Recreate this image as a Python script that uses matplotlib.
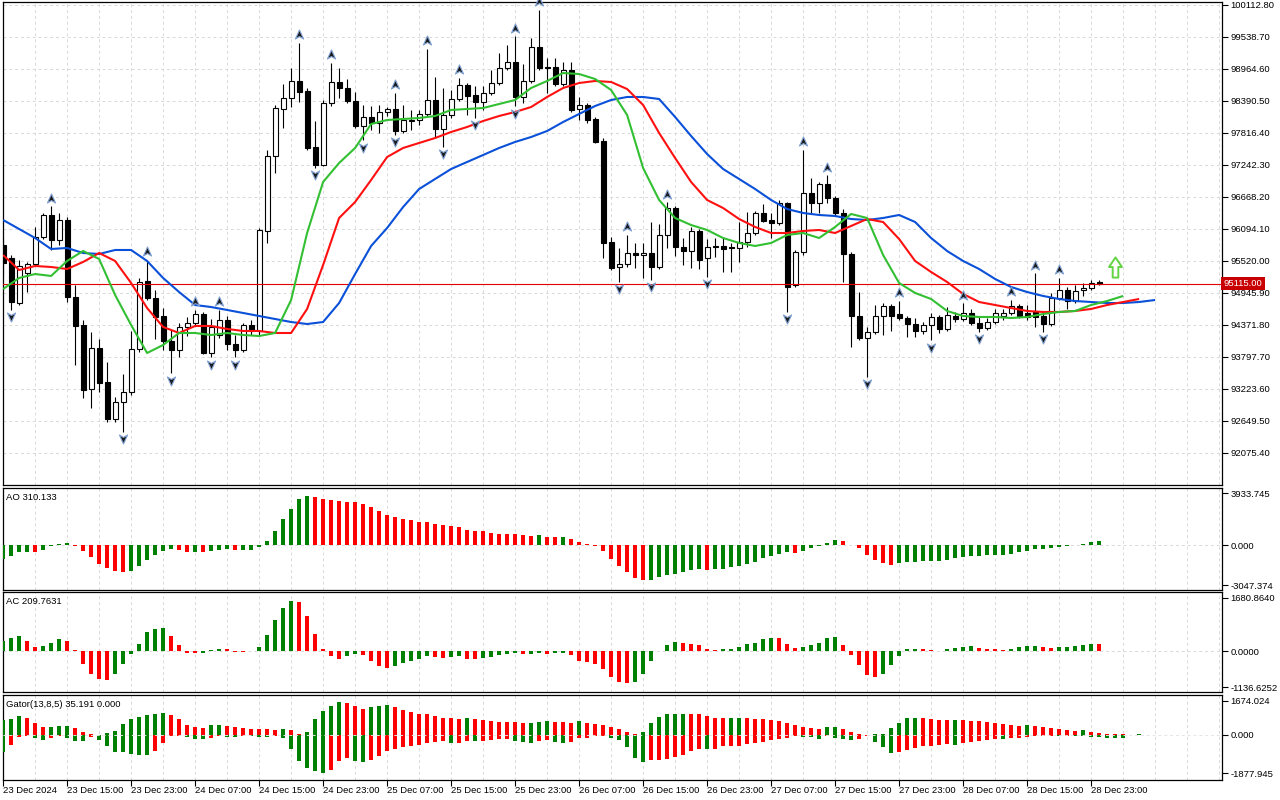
import matplotlib
matplotlib.use("Agg")
import matplotlib.pyplot as plt
import numpy as np
import pandas as pd
from matplotlib.path import Path
from matplotlib.transforms import offset_copy, blended_transform_factory

plt.rcParams["font.family"] = ["Liberation Sans", "DejaVu Sans"]
plt.rcParams["font.size"] = 6.8

# ---- hourly BTC candles, first bar 23 Dec 2024 07:00 ----
FIRST_BAR = "2024-12-23 07:00"
OPEN = [95807, 95574, 94766, 95304, 95466, 95950, 96345, 95896, 96255, 94874,
        94372, 93223, 93959, 93349, 92685, 92990, 93169, 93941, 95161, 94856,
        94533, 94084, 93923, 94336, 94407, 94569, 93869, 94192, 94461, 94031,
        93923, 94372, 94264, 96058, 97403, 98247, 98444, 98749, 98569, 97565,
        97242, 98354, 98731, 98623, 98390, 97942, 98103, 97995, 98193, 98247,
        97852, 98031, 98049, 98157, 98408, 97888, 98139, 98426, 98677, 98498,
        98372, 98534, 98713, 98982, 99090, 98462, 98749, 99359, 99000, 99000,
        98695, 98946, 98247, 98318, 98067, 97672, 95861, 95412, 95466, 95663,
        95627, 95663, 95412, 95986, 96470, 95771, 95699, 96058, 95574, 95789,
        95789, 95771, 95753, 95861, 96022, 96381, 96255, 96201, 96560, 95089,
        95681, 96740, 96560, 96901, 96650, 96381, 95645, 94533, 94138, 94246,
        94533, 94712, 94569, 94497, 94389, 94264, 94372, 94515, 94300, 94533,
        94479, 94587, 94407, 94318, 94425, 94533, 94587, 94712, 94587, 94605,
        94533, 94389, 94856, 94999, 94802, 94999, 95035, 95135]
HIGH = [95932, 95627, 95538, 95502, 96130, 96381, 96506, 96381, 96309, 95089,
        94461, 94246, 94120, 93708, 93080, 93492, 94264, 95215, 95538, 94999,
        94676, 94282, 94407, 94515, 94641, 94605, 94479, 94641, 94533, 94192,
        94407, 94461, 96112, 97511, 98318, 98695, 98982, 99431, 98623, 98031,
        98408, 99072, 98982, 98785, 98551, 98318, 98300, 98318, 98282, 98534,
        98318, 98229, 98229, 99323, 98821, 98623, 98587, 98803, 98713, 98659,
        98659, 98946, 99251, 99395, 99556, 99054, 99520, 100023, 99162, 99162,
        99090, 99090, 98462, 98354, 98103, 97726, 95950, 95753, 95986, 95843,
        95843, 96219, 96183, 96578, 96506, 95932, 96130, 96094, 95914, 95932,
        95932, 95843, 96219, 96399, 96417, 96542, 96381, 96614, 96578, 95717,
        97511, 97009, 96937, 97062, 96686, 96452, 95681, 94963, 94336, 94730,
        94766, 94748, 94802, 94533, 94497, 94425, 94587, 94551, 94694, 94605,
        94766, 94659, 94515, 94497, 94659, 94659, 94820, 94748, 94730, 95304,
        94605, 94946, 95215, 95053, 95089, 95125, 95179, 95179]
LOW = [95269, 94641, 94730, 94963, 95430, 95914, 95717, 95807, 94784, 93654,
       93062, 92882, 93169, 92631, 92631, 92452, 93116, 93887, 94820, 94120,
       93923, 93510, 93797, 94174, 94372, 93851, 93797, 94138, 93923, 93797,
       93887, 94192, 94174, 95843, 97098, 97906, 98282, 98372, 97511, 97190,
       97224, 98300, 98444, 98354, 97906, 97690, 97870, 97816, 98121, 97780,
       97816, 97870, 97960, 98121, 97726, 97565, 98085, 98390, 98139, 98085,
       98229, 98498, 98677, 98946, 98300, 98354, 98713, 98946, 98534, 98659,
       98659, 98193, 98049, 97995, 97637, 95574, 95358, 95143, 95412, 95394,
       95215, 95179, 95376, 95753, 95609, 95448, 95394, 95376, 95233, 95591,
       95322, 95322, 95502, 95771, 95986, 96219, 95932, 96165, 94605, 95053,
       95627, 96381, 96381, 96560, 96345, 95143, 93977, 94102, 93439, 94210,
       94192, 94264, 94461, 94156, 94156, 94210, 94102, 94228, 94264, 94425,
       94443, 94372, 94246, 94282, 94389, 94461, 94551, 94497, 94461, 94336,
       94246, 94354, 94820, 94659, 94766, 94892, 94999, 95089]
CLOSE = [95484, 94784, 95430, 95466, 95950, 96345, 95896, 96255, 94874, 94354,
         93205, 93959, 93331, 92685, 92990, 93169, 93941, 95143, 94856, 94515,
         94084, 93923, 94336, 94407, 94569, 93869, 94336, 94461, 94031, 93923,
         94372, 94264, 96076, 97403, 98264, 98444, 98749, 98551, 97547, 97242,
         98354, 98731, 98623, 98390, 97942, 98103, 97995, 98193, 98247, 97852,
         98049, 98049, 98157, 98408, 97888, 98139, 98426, 98677, 98480, 98372,
         98534, 98713, 98982, 99090, 98462, 98749, 99359, 98982, 98982, 98695,
         98946, 98229, 98318, 98049, 97655, 95843, 95394, 95466, 95663, 95627,
         95663, 95412, 95986, 96470, 95771, 95699, 96058, 95538, 95771, 95771,
         95735, 95753, 95861, 96022, 96381, 96237, 96201, 96560, 95053, 95681,
         96740, 96560, 96901, 96650, 96381, 95645, 94533, 94138, 94246, 94533,
         94712, 94533, 94497, 94389, 94264, 94372, 94515, 94300, 94551, 94479,
         94587, 94407, 94318, 94425, 94587, 94587, 94712, 94533, 94515, 94515,
         94389, 94856, 94999, 94802, 94981, 95035, 95125, 95115]
LAST_PRICE = 95115.00

# Alligator lines, one value every second bar (already shifted 8 / 5 / 3 bars)
LINE_STEP = 2
JAW = [96255, 96094, 95932, 95735, 95753, 95663, 95645, 95717, 95717, 95520,
       95215, 94963, 94730, 94694, 94641, 94587, 94533, 94479, 94425, 94389,
       94425, 94766, 95286, 95789, 96112, 96488, 96811, 96991, 97170, 97296,
       97421, 97547, 97655, 97744, 97852, 98013, 98157, 98300, 98408, 98462,
       98462, 98426, 98103, 97762, 97439, 97170, 96991, 96811, 96614, 96452,
       96381, 96345, 96327, 96273, 96255, 96291, 96345, 96219, 95932, 95699,
       95520, 95376, 95197, 95053, 94963, 94892, 94838, 94802, 94784, 94766,
       94766, 94784, 94820]
TEETH = [95627, 95358, 95430, 95412, 95376, 95502, 95663, 95520, 95125, 94676,
         94336, 94228, 94354, 94354, 94300, 94264, 94264, 94228, 94228, 94659,
         95448, 96291, 96578, 96973, 97385, 97547, 97637, 97726, 97834, 97924,
         98031, 98121, 98193, 98282, 98462, 98623, 98713, 98749, 98731, 98605,
         98318, 97816, 97367, 96937, 96614, 96470, 96273, 96130, 96022, 96022,
         96058, 96076, 96022, 96148, 96273, 96219, 95914, 95520, 95322, 95143,
         94928, 94784, 94730, 94676, 94623, 94605, 94605, 94623, 94659, 94730,
         94784, 94838]
LIPS = [95017, 95215, 95286, 95251, 95520, 95699, 95556, 94910, 94372, 93869,
        94013, 94228, 94228, 94192, 94228, 94192, 94174, 94228, 94820, 96022,
        96937, 97278, 97547, 97977, 98049, 98067, 98085, 98121, 98229, 98247,
        98264, 98336, 98408, 98623, 98749, 98892, 98874, 98785, 98587, 98139,
        97188, 96614, 96291, 96165, 96076, 95932, 95843, 95789, 95843, 95986,
        96022, 95932, 96130, 96363, 96291, 95627, 95125, 94946, 94838, 94623,
        94533, 94515, 94515, 94497, 94515, 94569, 94605, 94623, 94730, 94802,
        94892]

FRACTAL_UP = [6, 18, 24, 27, 37, 41, 49, 53, 57, 64, 67, 78, 83, 100, 103,
              112, 120, 126, 129, 132]
FRACTAL_DOWN = [1, 15, 21, 26, 29, 39, 45, 49, 55, 59, 64, 77, 81, 88, 98,
                108, 116, 122, 130]
BUY_SIGNAL_BAR = 139
BUY_SIGNAL_PRICE = 95412

AO = [-1037, -860, -557, -531, -557, -405, -101, 76, 152, -51,
      -481, -936, -1417, -1771, -1999, -2075, -1948, -1619, -1164, -784,
      -481, -304, -405, -557, -531, -557, -481, -405, -329, -405,
      -380, -354, -177, 329, 1088, 1948, 2758, 3517, 3744, 3669,
      3517, 3416, 3314, 3302, 3289, 3137, 2910, 2606, 2302, 2151,
      1999, 1923, 1771, 1746, 1619, 1543, 1467, 1392, 1164, 1088,
      1037, 911, 835, 822, 810, 784, 708, 734, 633, 620,
      633, 481, 253, 76, -101, -481, -1088, -1619, -2075, -2530,
      -2682, -2631, -2454, -2302, -2176, -2024, -1923, -1796, -1872, -1847,
      -1796, -1695, -1619, -1417, -1265, -1012, -810, -658, -557, -582,
      -481, -253, -76, 152, 405, 329, -25, -228, -784, -1164,
      -1392, -1493, -1392, -1316, -1265, -1240, -1214, -1189, -1113, -1012,
      -936, -860, -810, -784, -759, -734, -658, -557, -481, -329,
      -278, -228, -177, -101, -25, 76, 228, 310.133]
AC = [311, 415, 488, 332, 145, 176, 270, 394, 332, 21,
      -415, -727, -882, -913, -727, -415, -83, 239, 592, 706,
      716, 488, 208, -52, -62, -52, 21, 83, 73, -31,
      -36, -10, 145, 519, 986, 1360, 1578, 1547, 1111, 550,
      52, -156, -239, -156, -104, -125, -311, -467, -529, -467,
      -374, -311, -260, -156, -187, -218, -187, -156, -249, -254,
      -208, -187, -125, -83, -52, -93, -83, -62, -83, -73,
      -52, -125, -311, -343, -415, -561, -810, -965, -996, -965,
      -727, -311, -10, 208, 301, 270, 239, 197, 73, 31,
      52, 62, 145, 239, 270, 374, 405, 400, 239, 114,
      125, 208, 270, 415, 457, 208, -125, -436, -758, -810,
      -716, -436, -166, 52, 83, 52, 21, 16, 52, 114,
      145, 151, 114, 83, 52, 47, 83, 145, 151, 176,
      145, 114, 119, 145, 151, 208, 239, 209.7631]
GATOR_UP = [714, 764, 913, 813, 564, 365, 374, 415, 423, 315,
            166, 66, 17, 100, 216, 515, 764, 880, 963, 1029,
            1062, 963, 764, 465, 365, 315, 465, 473, 415, 365,
            315, 307, 299, 266, 257, 266, 249, 66, 166, 764,
            1162, 1411, 1610, 1560, 1411, 1262, 1361, 1411, 1461, 1361,
            1212, 1112, 1013, 1004, 913, 813, 805, 764, 813, 764,
            714, 664, 656, 647, 614, 564, 573, 614, 664, 656,
            614, 606, 664, 564, 515, 465, 365, 266, 166, 66,
            166, 564, 863, 1013, 1021, 1029, 1013, 1004, 913, 813,
            805, 813, 822, 813, 764, 755, 714, 664, 564, 465,
            365, 315, 266, 365, 374, 266, 166, 33, 8, 50,
            58, 315, 564, 813, 822, 813, 764, 714, 706, 714,
            706, 697, 664, 614, 564, 515, 465, 457, 465, 415,
            365, 315, 266, 257, 216, 224, 166, 116, 66, 50,
            33, 17, 25]
GATOR_DOWN = [-813, -498, -116, -66, -166, -232, -166, -66, -166, -282,
              -291, -116, -232, -564, -813, -830, -946, -963, -971, -780,
              -415, -50, -33, -116, -216, -224, -149, -66, -83, -116,
              -66, -75, -116, -125, -66, -166, -697, -1278, -1610, -1776,
              -1859, -1693, -1278, -1129, -1278, -1328, -1228, -1029, -780, -681,
              -614, -564, -515, -415, -365, -315, -415, -407, -282, -291,
              -282, -232, -224, -216, -282, -365, -415, -282, -232, -365,
              -415, -332, -166, -133, -66, -33, -166, -232, -614, -1112,
              -1328, -1228, -1220, -1162, -1062, -963, -780, -697, -706, -681,
              -564, -556, -531, -448, -398, -332, -232, -199, -133, -66,
              -83, -116, -216, -66, -166, -216, -266, -216, -66, -365,
              -614, -863, -813, -714, -664, -564, -556, -515, -465, -473,
              -415, -365, -315, -266, -216, -224, -166, -149, -116, -66,
              -50, -33, -66, -33, -66, -75, -116, -125, -133, -166,
              -174]

AO_LABEL = "AO 310.133"
AC_LABEL = "AC 209.7631"
GATOR_LABEL = "Gator(13,8,5) 35.191 0.000"
AO_RANGE = (3933.745, -3047.374)
AC_RANGE = (1680.8640, -1136.6252)
GATOR_RANGE = (1674.024, -1877.945)

# ---- style ----
GREEN = "#008000"
RED = "#FF0000"
JAW_COLOR = "#0A50D8"
TEETH_COLOR = "#FF1010"
LIPS_COLOR = "#32C032"
GRID = dict(color="#D9D9D9", linestyle=(0, (3, 3)), linewidth=0.7)
W, H = 1280, 800
X_LEFT, X_RIGHT = 2.7, 1222
XLIM = (-0.05, 152.36)


def trend_colors(values):
    values = np.asarray(values, dtype=float)
    prev = np.r_[-np.inf, values[:-1]]
    return np.where(values > prev, GREEN, RED)


fig = plt.figure(figsize=(W / 100, H / 100), dpi=100)
fig.patch.set_facecolor("white")


def panel(top, bottom):
    a = fig.add_axes([X_LEFT / W, 1 - bottom / H, (X_RIGHT - X_LEFT) / W, (bottom - top) / H])
    a.set_xlim(*XLIM)
    for s in a.spines.values():
        s.set_linewidth(0.9)
        s.set_color("black")
    a.yaxis.tick_right()
    a.tick_params(axis="y", direction="out", length=4, width=0.8, pad=2, labelsize=6.8)
    a.set_xticks([])
    for xg in range(4, int(XLIM[1]) + 1, 4):
        a.axvline(xg, zorder=0, **GRID)
    return a


ax = panel(2, 485)
ax_ao = panel(488, 590)
ax_ac = panel(592, 692)
ax_gt = panel(695, 780)

# ---- price chart ----
o, h, l, c = (np.asarray(v, dtype=float) for v in (OPEN, HIGH, LOW, CLOSE))
n = len(c)
bars = np.arange(n)
bull = c >= o

ax.set_ylim(91501, 100166)
price_ticks = 100112.80 - 574.10 * np.arange(15)
ax.set_yticks(price_ticks)
ax.set_yticklabels([f"{v:.2f}" for v in price_ticks])
for v in price_ticks:
    ax.axhline(v, zorder=0, **GRID)

ax.vlines(bars, l, h, color="black", linewidth=0.8, zorder=3)
ax.bar(bars, np.maximum(np.abs(c - o), 6), bottom=np.minimum(o, c), width=0.6,
       color=np.where(bull, "white", "black"), edgecolor="black", linewidth=0.8, zorder=4)

ax.axhline(LAST_PRICE, color="#E00000", linewidth=0.8, zorder=4.5)

for values, color in ((JAW, JAW_COLOR), (TEETH, TEETH_COLOR), (LIPS, LIPS_COLOR)):
    ax.plot(np.arange(len(values)) * LINE_STEP, values, color=color, linewidth=1.5,
            zorder=5, solid_capstyle="butt")

code = [Path.MOVETO, Path.LINETO, Path.LINETO, Path.LINETO, Path.CLOSEPOLY]
up_arrow = Path([(0, 1), (0.9, -1), (0, -0.45), (-0.9, -1), (0, 1)], code)
down_arrow = Path([(0, -1), (0.9, 1), (0, 0.45), (-0.9, 1), (0, -1)], code)
marker_kw = dict(linestyle="none", markersize=6.5, markerfacecolor="#1A1A1A",
                 markeredgecolor="#7FA0D0", markeredgewidth=0.8, zorder=6, clip_on=False)
ax.plot(FRACTAL_UP, h[FRACTAL_UP], marker=up_arrow,
        transform=offset_copy(ax.transData, fig=fig, y=8.5, units="dots"), **marker_kw)
ax.plot(FRACTAL_DOWN, l[FRACTAL_DOWN], marker=down_arrow,
        transform=offset_copy(ax.transData, fig=fig, y=-7.5, units="dots"), **marker_kw)

buy_arrow = Path([(-0.28, -1), (0.28, -1), (0.28, 0.05), (0.64, 0.05), (0, 1),
                  (-0.64, 0.05), (-0.28, 0.05), (-0.28, -1)],
                 [Path.MOVETO] + [Path.LINETO] * 6 + [Path.CLOSEPOLY])
ax.plot([BUY_SIGNAL_BAR], [BUY_SIGNAL_PRICE], marker=buy_arrow, markersize=14.5,
        markerfacecolor="white", markeredgecolor="#62D444", markeredgewidth=1.4,
        linestyle="none", zorder=6)

ax.text(1.0015, LAST_PRICE, f"{LAST_PRICE:.2f}", transform=blended_transform_factory(ax.transAxes, ax.transData),
        ha="left", va="center", color="white", fontsize=6.8, zorder=10, clip_on=False,
        bbox=dict(boxstyle="square,pad=0.25", facecolor="#C80000", edgecolor="none"))

# ---- oscillators ----
def setup_osc(a, rng, lim, fmt, label, label_y):
    a.set_ylim(*lim)
    a.set_yticks([rng[0], 0, rng[1]])
    a.set_yticklabels([fmt.format(rng[0]), fmt.format(0), fmt.format(rng[1])])
    a.text(0.0027, label_y, label, transform=a.transAxes, ha="left", va="center", fontsize=6.8)


ao = np.asarray(AO, dtype=float)
ax_ao.axhline(0, zorder=0, **GRID)
ax_ao.bar(bars, ao, width=0.55, color=trend_colors(ao), linewidth=0, zorder=3)
setup_osc(ax_ao, AO_RANGE, (-3410, 4330), "{:.3f}", AO_LABEL, 0.905)

ac = np.asarray(AC, dtype=float)
ax_ac.axhline(0, zorder=0, **GRID)
ax_ac.bar(bars, ac, width=0.55, color=trend_colors(ac), linewidth=0, zorder=3)
setup_osc(ax_ac, AC_RANGE, (-1285, 1860), "{:.4f}", AC_LABEL, 0.9)

gu = np.asarray(GATOR_UP, dtype=float)
gd = np.asarray(GATOR_DOWN, dtype=float)
ax_gt.bar(np.arange(len(gu)), gu, width=0.55, color=trend_colors(gu), linewidth=0, zorder=3)
ax_gt.bar(np.arange(len(gd)), gd, width=0.55, color=trend_colors(np.abs(gd)), linewidth=0, zorder=3)
ax_gt.axhline(0, color="#E6E6E6", linestyle=(0, (3, 3)), linewidth=0.7, zorder=5)
setup_osc(ax_gt, GATOR_RANGE, (-2206, 1953), "{:.3f}", GATOR_LABEL, 0.89)

# ---- time axis ----
times = pd.date_range(FIRST_BAR, periods=n, freq="h")
label_bars = bars[::8]
labels = [times[i].strftime("%d %b %H:%M") for i in label_bars]
labels[0] = times[0].strftime("%d %b %Y")
ax_gt.set_xticks(label_bars)
ax_gt.set_xticklabels(labels, ha="left")
ax_gt.tick_params(axis="x", direction="out", length=4, width=0.8, pad=0.5, labelsize=6.8)

fig.savefig("out.png", dpi=100, facecolor="white")
